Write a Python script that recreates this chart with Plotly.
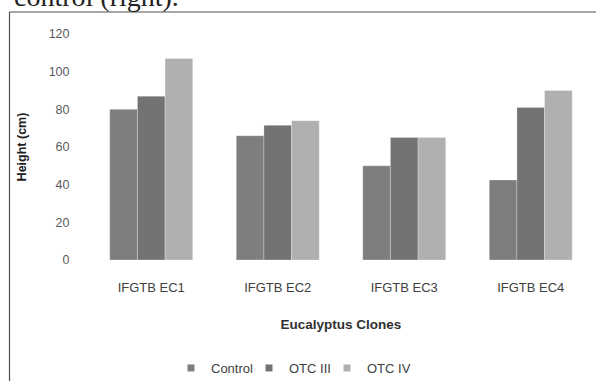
import plotly.graph_objects as go

categories = ["IFGTB EC1", "IFGTB EC2", "IFGTB EC3", "IFGTB EC4"]
control = [80, 66, 50, 42.5]
otc_iii = [87, 71.5, 65, 81]
otc_iv = [107, 74, 65, 90]
series_names = ["Control", "OTC III", "OTC IV"]
y_ticks = [0, 20, 40, 60, 80, 100, 120]

colors = ["#7d7f7d", "#727472", "#b0b0b0"]
W, H = 596, 381
ml, mr, mt, mb = 88, 2, 34, 121
pw = W - ml - mr
ph = H - mt - mb

fig = go.Figure()
for name, vals, c in zip(series_names, [control, otc_iii, otc_iv], colors):
    fig.add_trace(go.Bar(x=categories, y=vals, name=name, marker_color=c,
                         marker_line=dict(color="rgba(255,255,255,0.35)", width=0.8),
                         showlegend=False))
for name, c in zip(series_names, colors):
    fig.add_trace(go.Scatter(x=[None], y=[None], mode="markers", name=name,
                             marker=dict(symbol="square", size=7, color=c)))
# invisible spacer entry so the last legend label is not clipped
fig.add_trace(go.Scatter(x=[None], y=[None], mode="markers", name=" ",
                         marker=dict(symbol="square", size=7, color="rgba(0,0,0,0)")))

def px_x(p):
    return (p - ml) / pw

def px_y(p):
    return (H - mb - p) / ph

fig.update_layout(
    width=W, height=H,
    margin=dict(l=ml, r=mr, t=mt, b=mb, autoexpand=False),
    paper_bgcolor="white", plot_bgcolor="white",
    barmode="group", bargap=0.344, bargroupgap=0,
    font=dict(family="Liberation Sans", color="#404040", size=13),
    xaxis=dict(showgrid=False, showline=False, zeroline=False,
               ticks="outside", ticklen=15, tickcolor="rgba(0,0,0,0)",
               tickfont=dict(size=13, color="#404040"),
               title=dict(text="<b>Eucalyptus Clones</b>", font=dict(size=13.5, color="#303030"), standoff=25)),
    yaxis=dict(range=[0, 120], tickvals=y_ticks, showgrid=False, showline=False, zeroline=False,
               ticks="outside", ticklen=15, tickcolor="rgba(0,0,0,0)",
               tickfont=dict(size=12.5, color="#5a5a5a"),
               title=dict(text="<b>Height (cm)</b>", font=dict(size=12.5, color="#202020"), standoff=19)),
    legend=dict(orientation="h", x=px_x(171), xanchor="left", y=px_y(368), yanchor="middle",
                font=dict(size=13, color="#404040"), itemwidth=30, tracegroupgap=0,
                entrywidth=33, entrywidthmode="pixels"),
    showlegend=True,
)

# frame lines around the chart
fig.add_shape(type="line", xref="paper", yref="paper", x0=px_x(9.5), x1=px_x(600),
              y0=px_y(12), y1=px_y(12), line=dict(color="#505050", width=1.2))
fig.add_shape(type="line", xref="paper", yref="paper", x0=px_x(9.5), x1=px_x(9.5),
              y0=px_y(12), y1=px_y(390), line=dict(color="#505050", width=1.2))

# clipped caption text above the frame
fig.add_annotation(text="control (right).", xref="paper", yref="paper", x=px_x(12), y=px_y(14),
                   xanchor="left", yanchor="bottom", showarrow=False,
                   font=dict(family="Liberation Serif", size=28, color="#222222"))

fig.write_html("out.html", config={"displayModeBar": False},
               post_script="document.body.style.margin='0px';")
